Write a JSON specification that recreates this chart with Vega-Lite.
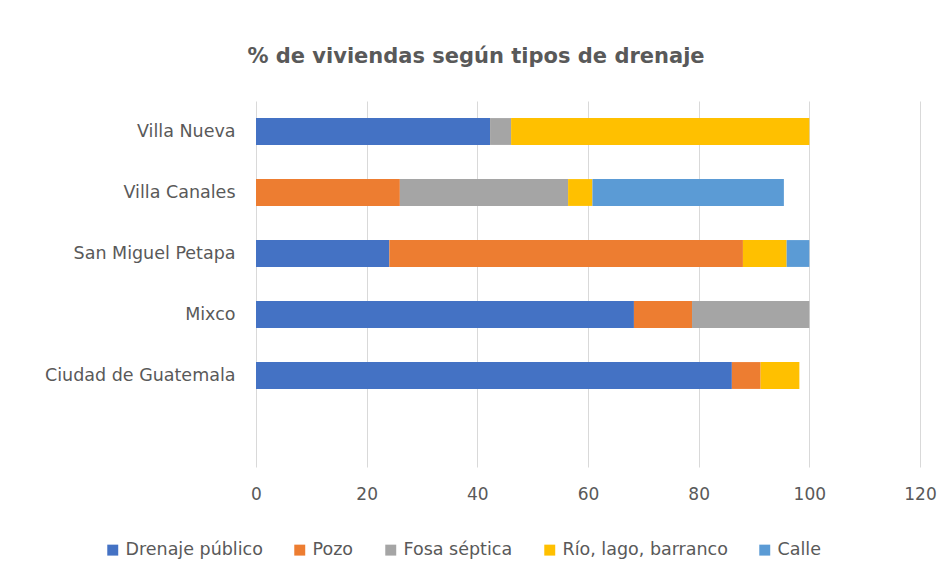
{
  "$schema": "https://vega.github.io/schema/vega-lite/v6.json",
  "autosize": {"type": "none"},
  "width": 664,
  "height": 366,
  "padding": {"left": 256, "top": 101, "right": 32, "bottom": 116},
  "background": "white",
  "title": {
    "text": "% de viviendas según tipos de drenaje",
    "font": "DejaVu Sans",
    "fontSize": 21,
    "fontWeight": "bold",
    "color": "#595959",
    "anchor": "middle",
    "dx": -112,
    "offset": 34
  },
  "data": {
    "values": [
      {"municipio": "Villa Nueva", "tipo": "Drenaje público", "orden": 1, "valor": 42.3},
      {"municipio": "Villa Nueva", "tipo": "Fosa séptica", "orden": 3, "valor": 3.8},
      {"municipio": "Villa Nueva", "tipo": "Río, lago, barranco", "orden": 4, "valor": 53.9},
      {"municipio": "Villa Canales", "tipo": "Pozo", "orden": 2, "valor": 26.0},
      {"municipio": "Villa Canales", "tipo": "Fosa séptica", "orden": 3, "valor": 30.4},
      {"municipio": "Villa Canales", "tipo": "Río, lago, barranco", "orden": 4, "valor": 4.4},
      {"municipio": "Villa Canales", "tipo": "Calle", "orden": 5, "valor": 34.6},
      {"municipio": "San Miguel Petapa", "tipo": "Drenaje público", "orden": 1, "valor": 24.1},
      {"municipio": "San Miguel Petapa", "tipo": "Pozo", "orden": 2, "valor": 63.9},
      {"municipio": "San Miguel Petapa", "tipo": "Río, lago, barranco", "orden": 4, "valor": 7.9},
      {"municipio": "San Miguel Petapa", "tipo": "Calle", "orden": 5, "valor": 4.1},
      {"municipio": "Mixco", "tipo": "Drenaje público", "orden": 1, "valor": 68.3},
      {"municipio": "Mixco", "tipo": "Pozo", "orden": 2, "valor": 10.5},
      {"municipio": "Mixco", "tipo": "Fosa séptica", "orden": 3, "valor": 21.2},
      {"municipio": "Ciudad de Guatemala", "tipo": "Drenaje público", "orden": 1, "valor": 86.0},
      {"municipio": "Ciudad de Guatemala", "tipo": "Pozo", "orden": 2, "valor": 5.2},
      {"municipio": "Ciudad de Guatemala", "tipo": "Río, lago, barranco", "orden": 4, "valor": 7.0}
    ]
  },
  "mark": {"type": "bar", "height": {"band": 0.44}},
  "encoding": {
    "y": {
      "field": "municipio",
      "type": "nominal",
      "title": null,
      "scale": {
        "domain": ["Villa Nueva", "Villa Canales", "San Miguel Petapa", "Mixco", "Ciudad de Guatemala", " "],
        "paddingInner": 0,
        "paddingOuter": 0
      },
      "axis": {
        "domain": false,
        "ticks": false,
        "grid": false,
        "labelFont": "DejaVu Sans",
        "labelFontSize": 17.5,
        "labelColor": "#595959",
        "labelPadding": 21,
        "labelLimit": 300
      }
    },
    "x": {
      "field": "valor",
      "type": "quantitative",
      "stack": "zero",
      "title": null,
      "scale": {"domain": [0, 120], "nice": false},
      "axis": {
        "values": [0, 20, 40, 60, 80, 100, 120],
        "domain": false,
        "ticks": false,
        "grid": true,
        "gridColor": "#D9D9D9",
        "labelFlush": false,
        "labelFont": "DejaVu Sans",
        "labelFontSize": 17,
        "labelColor": "#595959",
        "labelPadding": 19
      }
    },
    "color": {
      "field": "tipo",
      "type": "nominal",
      "scale": {
        "domain": ["Drenaje público", "Pozo", "Fosa séptica", "Río, lago, barranco", "Calle"],
        "range": ["#4472C4", "#ED7D31", "#A5A5A5", "#FFC000", "#5B9BD5"]
      },
      "legend": {
        "title": null,
        "orient": "none",
        "direction": "horizontal",
        "legendX": -152,
        "legendY": 440,
        "symbolType": "square",
        "symbolSize": 120,
        "symbolStrokeWidth": 0,
        "labelFont": "DejaVu Sans",
        "labelFontSize": 17.5,
        "labelColor": "#595959",
        "labelLimit": 300,
        "columnPadding": 28,
        "labelOffset": 4
      }
    },
    "order": {"field": "orden", "type": "quantitative"}
  },
  "config": {
    "view": {"stroke": null}
  }
}
